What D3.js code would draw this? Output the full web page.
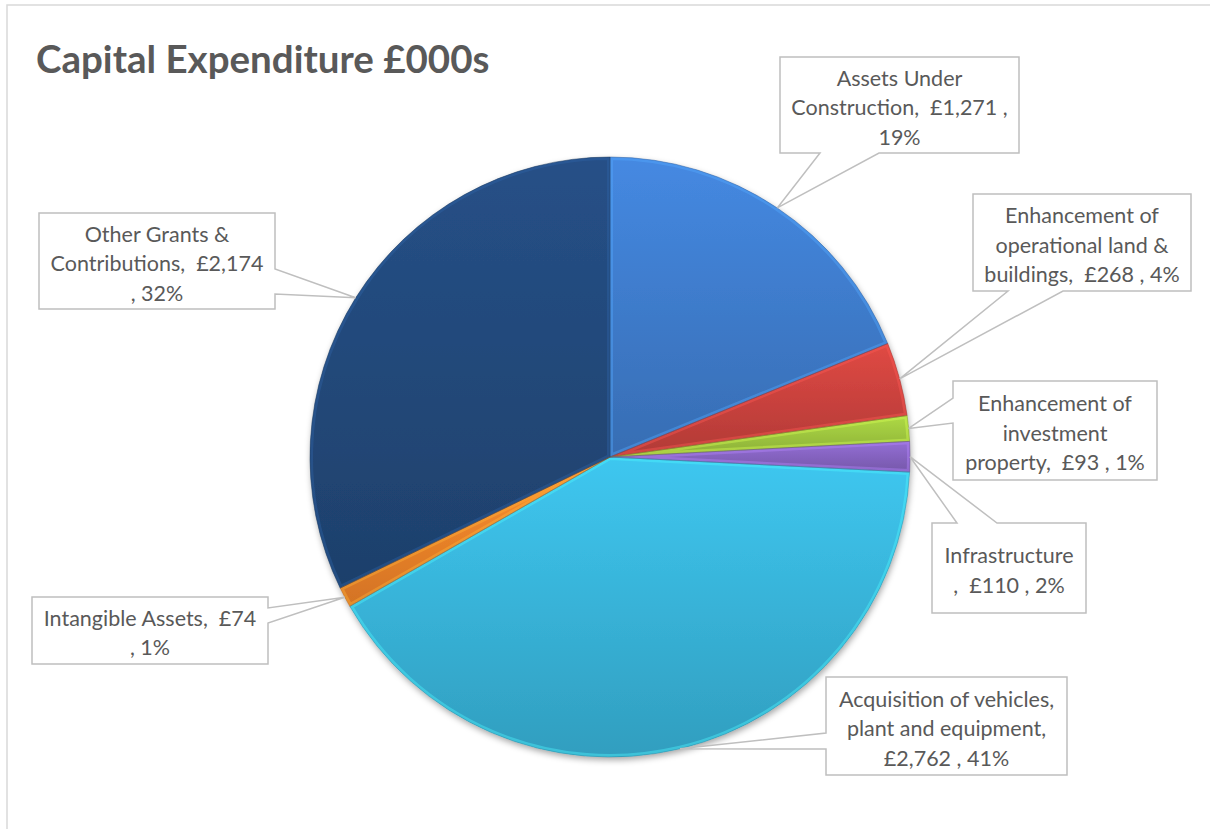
<!DOCTYPE html>
<html lang="en">
<head>
<meta charset="UTF-8"/>
<title>Capital Expenditure £000s</title>
<script src="https://d3js.org/d3.v7.min.js"></script>
<style>
  body { margin:0; background:#fff; font-family:Lato, "Open Sans", sans-serif; }
  svg { display:block; }
  .title { font-size:38.5px; font-weight:bold; fill:#595959; }
  .lbl { font-size:21.5px; fill:#595959; white-space:pre; }
</style>
</head>
<body>
<svg width="1210" height="829"></svg>
<script>
// data
const categories = ['Assets Under Construction', 'Enhancement of operational land & buildings',
  'Enhancement of investment property', 'Infrastructure ', 'Acquisition of vehicles, plant and equipment',
  'Intangible Assets', 'Other Grants & Contributions'];
const values = [1271, 268, 93, 110, 2762, 74, 2174];
const colors = ['#3e7bcb', '#c9423d', '#9cc43e', '#8563c0', '#38b3d8', '#ef8229', '#224879'];

// how many words go on each line of a label (Excel's wrapping)
const lineWords = [[2,4,1], [2,3,5], [2,1,5], [1,5], [3,3,4], [4,2], [3,3,2]];
// callout boxes: x, y, w, h, which side the pointer leaves from, pointer base offsets
const boxes = [
  {x:780, y:57,  w:239, h:96, side:'bottom', a:40, b:99},
  {x:973, y:194, w:218, h:97, side:'bottom', a:35, b:90},
  {x:953, y:381, w:204, h:99, side:'left',   a:17, b:42},
  {x:932, y:523, w:154, h:90, side:'top',    a:25, b:65},
  {x:826, y:677, w:241, h:98, side:'left',   a:56, b:72},
  {x:32,  y:597, w:236, h:67, side:'right',  a:11, b:26},
  {x:39,  y:213, w:236, h:96, side:'right',  a:56, b:81}
];

const svg = d3.select('svg');
const cx = 610, cy = 457, r = 300;
const total = d3.sum(values);
const fmt = d3.format(',');

// outer frame
svg.append('rect').attr('x', 7).attr('y', 5).attr('width', 1230).attr('height', 850)
  .attr('fill', 'none').attr('stroke', '#d9d9d9').attr('stroke-width', 1.5);

svg.append('text').attr('class', 'title').attr('x', 36).attr('y', 73)
  .text('Capital Expenditure £000s');

const defs = svg.append('defs');
const shadow = defs.append('filter').attr('id', 'shadow')
  .attr('x', '-10%').attr('y', '-10%').attr('width', '120%').attr('height', '120%');
shadow.append('feDropShadow').attr('dx', 1).attr('dy', 3).attr('stdDeviation', 3)
  .attr('flood-color', '#000').attr('flood-opacity', 0.35);

colors.forEach((c, i) => {
  const g = defs.append('linearGradient').attr('id', 'grad' + i)
    .attr('x1', 0).attr('y1', 0).attr('x2', 0).attr('y2', 1);
  g.append('stop').attr('offset', 0).attr('stop-color', d3.color(c).brighter(0.3));
  g.append('stop').attr('offset', 1).attr('stop-color', d3.color(c).darker(0.35));
});

const pie = d3.pie().sort(null).value(d => d);
const arcs = pie(values);
const arc = d3.arc().innerRadius(0).outerRadius(r);
const rim = d3.arc().innerRadius(r).outerRadius(r);

arcs.forEach((d, i) => {
  defs.append('clipPath').attr('id', 'clip' + i).append('path').attr('d', arc(d));
});

const gPie = svg.append('g').attr('transform', `translate(${cx},${cy})`);
gPie.append('g').attr('filter', 'url(#shadow)')
  .selectAll('path').data(arcs).join('path')
  .attr('d', arc).attr('fill', (d, i) => `url(#grad${i})`);

// bevel highlight along each slice edge
gPie.append('g').selectAll('path').data(arcs).join('path')
  .attr('d', arc).attr('fill', 'none')
  .attr('clip-path', (d, i) => `url(#clip${i})`)
  .attr('stroke', (d, i) => d3.color(colors[i]).brighter(0.9))
  .attr('stroke-opacity', 0.4).attr('stroke-width', 6);
gPie.append('g').selectAll('path').data(arcs).join('path')
  .attr('d', arc).attr('fill', 'none')
  .attr('stroke', (d, i) => d3.color(colors[i]).darker(0.8))
  .attr('stroke-opacity', 0.6).attr('stroke-width', 0.8);

// callout labels
function calloutPath(b, t) {
  const {x, y, w, h} = b;
  const p = [[x, y]];
  if (b.side === 'top') p.push([x + b.a, y], t, [x + b.b, y]);
  p.push([x + w, y]);
  if (b.side === 'right') p.push([x + w, y + b.a], t, [x + w, y + b.b]);
  p.push([x + w, y + h]);
  if (b.side === 'bottom') p.push([x + b.b, y + h], t, [x + b.a, y + h]);
  p.push([x, y + h]);
  if (b.side === 'left') p.push([x, y + b.b], t, [x, y + b.a]);
  return 'M' + p.join('L') + 'Z';
}

const lineH = 29.5;
arcs.forEach((d, i) => {
  const b = boxes[i];
  const c = rim.centroid(d);
  const tip = [cx + c[0], cy + c[1]];
  svg.append('path').attr('d', calloutPath(b, tip))
    .attr('fill', '#fff').attr('stroke', '#bfbfbf').attr('stroke-width', 1.5);

  const pct = Math.round(values[i] / total * 100);
  const label = `${categories[i]},  £${fmt(values[i])} , ${pct}%`;
  const words = label.split(' ');
  const lines = [];
  let k = 0;
  lineWords[i].forEach(n => { lines.push(words.slice(k, k + n).join(' ').trim()); k += n; });

  const t = svg.append('text').attr('class', 'lbl').attr('text-anchor', 'middle');
  const y0 = b.y + b.h / 2 - (lines.length - 1) * lineH / 2 + 10;
  lines.forEach((ln, j) => {
    t.append('tspan').attr('x', b.x + b.w / 2).attr('y', y0 + j * lineH).text(ln);
  });
});
</script>
</body>
</html>
